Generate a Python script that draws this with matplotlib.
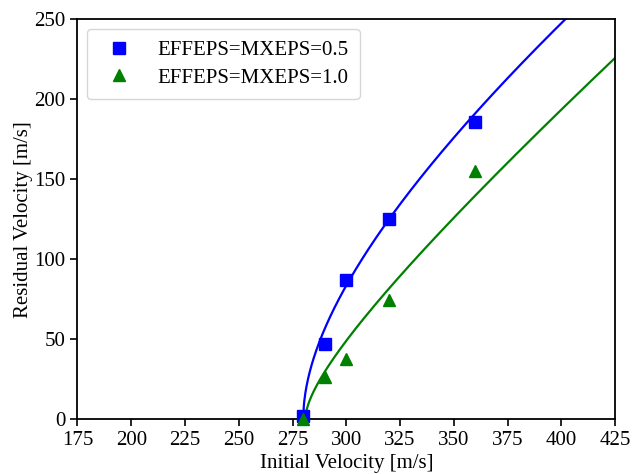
import matplotlib
matplotlib.use("Agg")
import matplotlib.pyplot as plt
import numpy as np

# Datos medidos (velocidad inicial y residual)
v_inicial = [280, 290, 300, 320, 360]
v_res_05 = [2, 47, 87, 125, 186]
v_res_10 = [0, 26, 37.5, 74.5, 155]

etiqueta_05 = "EFFEPS=MXEPS=0.5"
etiqueta_10 = "EFFEPS=MXEPS=1.0"

# Parametros del ajuste: vr = A*sqrt(v - vbl) + C*(v - vbl)
vbl_05, A_05, C_05 = 280.0, 15.97, 0.606
vbl_10, A_10, C_10 = 281.0, 6.90, 0.994


def ajuste(v, vbl, A, C):
    x = np.clip(v - vbl, 0, None)
    return A * np.sqrt(x) + C * x


plt.rcParams['font.family'] = ['Liberation Serif', 'DejaVu Serif']
plt.rcParams['font.size'] = 15
plt.rcParams['xtick.major.size'] = 5
plt.rcParams['ytick.major.size'] = 5
plt.rcParams['xtick.major.width'] = 1.2
plt.rcParams['ytick.major.width'] = 1.2

fig = plt.figure(figsize=(6.34, 4.74), dpi=100)
ax = fig.add_axes([0.1222, 0.116, 0.848, 0.843])

# Curvas de ajuste
v1 = np.linspace(vbl_05, 425, 600)
v2 = np.linspace(vbl_10, 425, 600)
ax.plot(v1, ajuste(v1, vbl_05, A_05, C_05), color='blue', lw=1.6)
ax.plot(v2, ajuste(v2, vbl_10, A_10, C_10), color='green', lw=1.6)

# Puntos
ax.plot(v_inicial, v_res_05, 's', color='blue', ms=8.5, label=etiqueta_05, clip_on=False, zorder=3)
ax.plot(v_inicial, v_res_10, '^', color='green', ms=8.5, label=etiqueta_10, clip_on=False, zorder=3)

ax.set_xlim(175, 425)
ax.set_ylim(0, 250)
ax.set_xticks(np.arange(175, 426, 25))
ax.set_yticks(np.arange(0, 251, 50))
ax.set_xlabel('Initial Velocity [m/s]', labelpad=3)
ax.set_ylabel('Residual Velocity [m/s]', labelpad=1)
for s in ax.spines.values():
    s.set_linewidth(1.3)

ax.legend(loc='upper left', handlelength=2.0, handletextpad=0.82, borderaxespad=0.45,
          borderpad=0.55, labelspacing=0.4)

fig.savefig('out.png', dpi=100)
